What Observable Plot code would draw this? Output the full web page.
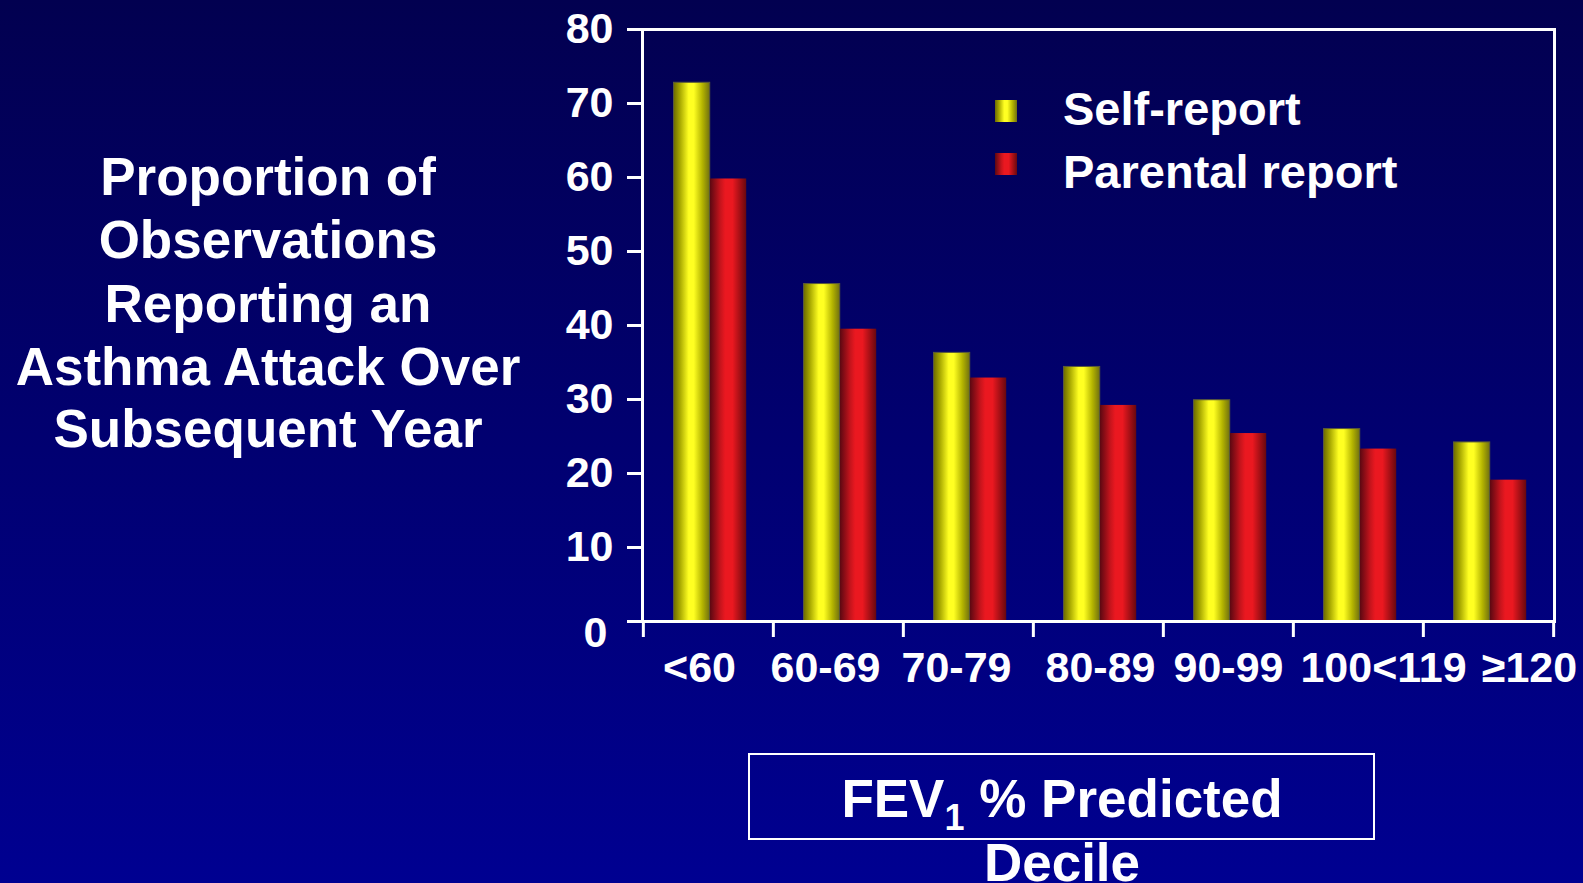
<!DOCTYPE html>
<html><head><meta charset="utf-8">
<script src="https://cdn.jsdelivr.net/npm/d3@7"></script>
<script src="https://cdn.jsdelivr.net/npm/@observablehq/plot@0.6"></script>
<style>
html,body{margin:0;padding:0;}
body{width:1583px;height:883px;overflow:hidden;background:linear-gradient(to bottom,#020050 0%,#000091 100%);}
#chart{position:absolute;left:0;top:0;}
</style></head><body><div id="chart"></div>
<script>
// ---- data ----
const categories = ["<60", "60-69", "70-79", "80-89", "90-99", "100<119", "\u2265120"];
const series = ["Self-report", "Parental report"];
const selfReport = [72.8, 45.6, 36.3, 34.4, 29.9, 26.0, 24.2];
const parentalReport = [59.8, 39.5, 32.9, 29.2, 25.4, 23.3, 19.1];
const yTicks = [0, 10, 20, 30, 40, 50, 60, 70, 80];
const titleLines = ["Proportion of", "Observations", "Reporting an", "Asthma Attack Over", "Subsequent Year"];
const xTitleMain = "FEV";
const xTitleSub = "1";
const xTitleRest = " % Predicted";
const xTitleLine2 = "Decile";

// ---- layout ----
const W = 1583, H = 883;
const mL = 642, mR = 29, mT = 29, mB = 262;
const bw = (W - mL - mR) / categories.length;
const barW = 36.5;
const insetL = [30.5, 67];
const xLabelDx = [-9, -13, -12, 2, 0, 25, 41];
const fills = ["url(#gradSelf)", "url(#gradParental)"];
const strokes = ["#5a5a3a", "none"];
const font = "'Liberation Sans', Arial, Helvetica, sans-serif";

const values = [selfReport, parentalReport];
const data = categories.flatMap((c, i) => series.map((s, k) => ({cat: c, series: s, value: values[k][i]})));

const chart = Plot.plot({
  width: W, height: H,
  marginLeft: mL, marginRight: mR, marginTop: mT, marginBottom: mB,
  style: {background: "transparent", color: "white", fontFamily: font, fontWeight: "bold", overflow: "visible"},
  x: {domain: categories, padding: 0, axis: null},
  y: {domain: [0, 80], axis: null},
  marks: [
    ...series.map((s, k) => Plot.barY(data.filter(d => d.series === s), {
      x: "cat", y: "value", fill: fills[k], stroke: strokes[k], strokeWidth: 1,
      insetLeft: insetL[k], insetRight: bw - insetL[k] - barW
    })),
    Plot.frame({stroke: "white", strokeWidth: 3}),
    Plot.axisY({ticks: yTicks, tickSize: 15, strokeWidth: 3, tickFormat: () => "", label: null}),
    Plot.axisY({ticks: yTicks.filter(t => t > 0), tickSize: 0, tickPadding: 29, fontSize: 43, fontWeight: "bold", label: null}),
    Plot.axisY({ticks: [0], tickSize: 0, tickPadding: 35, dy: 12, fontSize: 43, fontWeight: "bold", label: null}),
    ...categories.map((c, i) => Plot.axisX({ticks: [c], tickSize: 0, tickPadding: 30, dx: xLabelDx[i], fontSize: 43, fontWeight: "bold", label: null})),
    Plot.ruleX(categories, {x: d => d, y1: 0, y2: 0, insetBottom: -16, dx: -bw / 2, stroke: "white", strokeWidth: 3}),
    Plot.ruleX(categories.slice(-1), {x: d => d, y1: 0, y2: 0, insetBottom: -16, dx: bw / 2, stroke: "white", strokeWidth: 3})
  ]
});
document.getElementById("chart").appendChild(chart);

// ---- gradients ----
const svg = d3.select(chart);
const defs = svg.insert("defs", ":first-child");
function grad(id, stops) {
  const g = defs.append("linearGradient").attr("id", id).attr("x1", "0").attr("x2", "1").attr("y1", "0").attr("y2", "0");
  stops.forEach(([o, c]) => g.append("stop").attr("offset", o).attr("stop-color", c));
}
grad("gradSelf", [[0, "#6a6a00"], [0.18, "#a8a800"], [0.42, "#ffff22"], [0.56, "#ffff22"], [0.8, "#b4b400"], [1, "#707010"]]);
grad("gradParental", [[0, "#5c0812"], [0.28, "#c4141c"], [0.42, "#ea1820"], [0.62, "#ea1820"], [0.85, "#9c0e14"], [1, "#680810"]]);

// ---- legend ----
const legendY = [100, 153];
const legendBase = [125, 188];
series.forEach((s, k) => {
  svg.append("rect").attr("x", 995).attr("y", legendY[k]).attr("width", 22).attr("height", 22)
    .attr("fill", fills[k]);
  svg.append("text").attr("x", 1063).attr("y", legendBase[k]).attr("fill", "white").attr("text-anchor", "start")
    .attr("font-size", 47).attr("font-weight", "bold").attr("font-family", font).text(s);
});

// ---- left title ----
const titleBase = [195, 258, 322, 385, 447];
const tt = svg.append("text").attr("text-anchor", "middle").attr("fill", "white")
  .attr("font-size", 53).attr("font-weight", "bold").attr("font-family", font);
titleLines.forEach((l, i) => tt.append("tspan").attr("x", 268).attr("y", titleBase[i]).text(l));

// ---- x title box ----
svg.append("rect").attr("x", 749).attr("y", 754).attr("width", 625).attr("height", 85)
  .attr("fill", "none").attr("stroke", "white").attr("stroke-width", 2);
const xt = svg.append("text").attr("x", 1062).attr("y", 817).attr("text-anchor", "middle").attr("fill", "white")
  .attr("font-size", 53).attr("font-weight", "bold").attr("font-family", font);
xt.append("tspan").text(xTitleMain);
xt.append("tspan").attr("font-size", 36).attr("dy", 13).text(xTitleSub);
xt.append("tspan").attr("dy", -13).text(xTitleRest);
svg.append("text").attr("x", 1062).attr("y", 881).attr("text-anchor", "middle").attr("fill", "white")
  .attr("font-size", 53).attr("font-weight", "bold").attr("font-family", font).text(xTitleLine2);
</script></body></html>
